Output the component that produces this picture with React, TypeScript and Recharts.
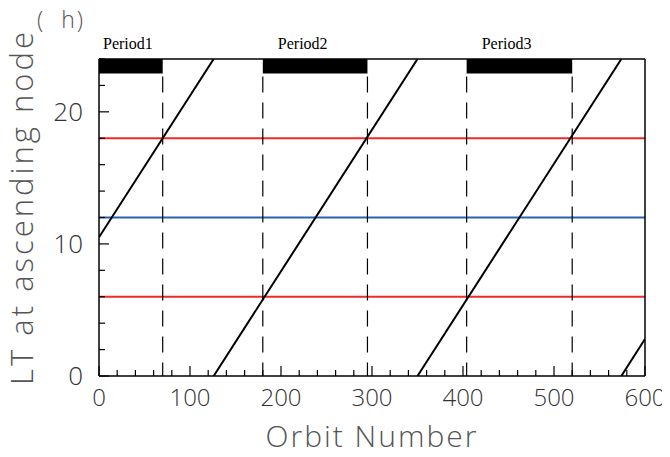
import { ComposedChart, Line, XAxis, YAxis, ReferenceLine, ReferenceArea } from 'recharts';

// LT drift lines (orbit number -> local time at ascending node)
const driftOrbits = [[0, 126], [126, 350], [350, 574], [574, 600]];
const driftLT = [[10.5, 24], [0, 24], [0, 24], [0, 2.8]];

const periodNames = ['Period1', 'Period2', 'Period3'];
const periodStart = [0, 180, 404];
const periodEnd = [70, 295, 520];
const boundaryOrbits = [70, 180, 295, 404, 520];

const redLT = [6, 18];
const blueLT = [12];

const xTicks = [0, 20, 40, 60, 80, 100, 120, 140, 160, 180, 200, 220, 240, 260, 280, 300, 320, 340, 360, 380, 400, 420, 440, 460, 480, 500, 520, 540, 560, 580, 600];
const yTicks = [0, 2, 4, 6, 8, 10, 12, 14, 16, 18, 20, 22, 24];

const FONT = '"Open Sans", "DejaVu Sans", sans-serif';
const SERIF = '"Liberation Serif", "Times New Roman", serif';
const BAR_BOTTOM = 22.9;
const labelShift = [4, 15, 15];

const driftData = driftOrbits.map((o, i) => [
  { orbit: o[0], lt: driftLT[i][0] },
  { orbit: o[1], lt: driftLT[i][1] },
]);
// drawn top-down so the dash pattern starts under the period bar
const boundaryData = boundaryOrbits.map(o => [
  { orbit: o, lt: BAR_BOTTOM },
  { orbit: o, lt: 0 },
]);

function BottomTick({ x, y, payload }: any) {
  const major = payload.value % 100 === 0;
  return (
    <g>
      <line x1={x} x2={x} y1={y} y2={y - (major ? 10 : 6)} stroke="#000" strokeWidth={1.2} />
      {major && (
        <text x={x} y={y + 30} textAnchor="middle" fontFamily={FONT} fontWeight={300} fontSize={24} fill="#333">
          {payload.value}
        </text>
      )}
    </g>
  );
}

function TopTick({ x, y, payload }: any) {
  const major = payload.value % 100 === 0;
  return <line x1={x} x2={x} y1={y} y2={y + (major ? 10 : 6)} stroke="#000" strokeWidth={1.2} />;
}

function LeftTick({ x, y, payload }: any) {
  const major = payload.value % 10 === 0;
  return (
    <g>
      <line x1={x} x2={x + (major ? 10 : 6)} y1={y} y2={y} stroke="#000" strokeWidth={1.2} />
      {major && (
        <text x={x - 16} y={y + 9} textAnchor="end" fontFamily={FONT} fontWeight={300} fontSize={26} fill="#333">
          {payload.value}
        </text>
      )}
    </g>
  );
}

function RightTick({ x, y, payload }: any) {
  const major = payload.value % 10 === 0;
  return <line x1={x} x2={x - (major ? 10 : 6)} y1={y} y2={y} stroke="#000" strokeWidth={1.2} />;
}

function YTitle() {
  return (
    <g>
      <text transform="translate(33, 207) rotate(-90)" textAnchor="middle" fontFamily={FONT} fontWeight={300}
        fontSize={31} letterSpacing={3} fill="#555">
        LT at ascending node
      </text>
      <text x={37} y={28} fontFamily={FONT} fontWeight={300} fontSize={23} letterSpacing={2} fill="#555" xmlSpace="preserve">(  h)</text>
    </g>
  );
}

function XTitle({ viewBox }: any) {
  return (
    <text x={viewBox.x + viewBox.width / 2} y={447} textAnchor="middle" fontFamily={FONT} fontWeight={300}
      fontSize={30} letterSpacing={2} fill="#555">
      Orbit Number
    </text>
  );
}

export default function App() {
  return (
    <div style={{ margin: -8, width: 670, height: 457, background: '#fff' }}>
      <ComposedChart width={670} height={457} margin={{ top: 58, right: 24, bottom: 51, left: 59 }}>
        <XAxis xAxisId="b" type="number" dataKey="orbit" domain={[0, 600]} ticks={xTicks} interval={0}
          allowDataOverflow height={30} tickSize={0} tickMargin={0} tick={<BottomTick />}
          axisLine={{ stroke: '#000', strokeWidth: 1.5 }} label={{ content: <XTitle /> }} />
        <XAxis xAxisId="t" orientation="top" type="number" dataKey="orbit" domain={[0, 600]} ticks={xTicks} interval={0}
          height={1} tickSize={0} tickMargin={0} tick={<TopTick />} axisLine={{ stroke: '#000', strokeWidth: 1.5 }} />
        <YAxis yAxisId="l" type="number" dataKey="lt" domain={[0, 24]} ticks={yTicks} interval={0}
          allowDataOverflow width={40} tickSize={0} tickMargin={0} tick={<LeftTick />}
          axisLine={{ stroke: '#000', strokeWidth: 1.5 }} label={{ content: <YTitle /> }} />
        <YAxis yAxisId="r" orientation="right" type="number" domain={[0, 24]} ticks={yTicks} interval={0}
          width={1} tickSize={0} tickMargin={0} tick={<RightTick />} axisLine={{ stroke: '#000', strokeWidth: 1.5 }} />

        {periodNames.map((name, i) => (
          <ReferenceArea key={name} xAxisId="b" yAxisId="l" x1={periodStart[i]} x2={periodEnd[i]} y1={BAR_BOTTOM} y2={24}
            fill="#000" fillOpacity={1} stroke="none"
            label={{
              content: ({ viewBox }: any) => (
                <text x={viewBox.x + labelShift[i]} y={viewBox.y - 10} fontFamily={SERIF} fontSize={16} fill="#000">
                  {name}
                </text>
              ),
            }} />
        ))}

        {redLT.map(v => (
          <ReferenceLine key={'r' + v} xAxisId="b" yAxisId="l" y={v} stroke="#ee2a2a" strokeWidth={2} />
        ))}
        {blueLT.map(v => (
          <ReferenceLine key={'b' + v} xAxisId="b" yAxisId="l" y={v} stroke="#2a62b0" strokeWidth={2} />
        ))}

        {boundaryData.map((d, i) => (
          <Line key={'d' + i} xAxisId="b" yAxisId="l" data={d} dataKey="lt" type="linear" stroke="#000"
            strokeWidth={1.2} strokeDasharray="16 10" strokeDashoffset={-3} dot={false} isAnimationActive={false} />
        ))}
        {driftData.map((d, i) => (
          <Line key={'l' + i} xAxisId="b" yAxisId="l" data={d} dataKey="lt" type="linear" stroke="#000"
            strokeWidth={2} dot={false} isAnimationActive={false} />
        ))}
      </ComposedChart>
    </div>
  );
}
